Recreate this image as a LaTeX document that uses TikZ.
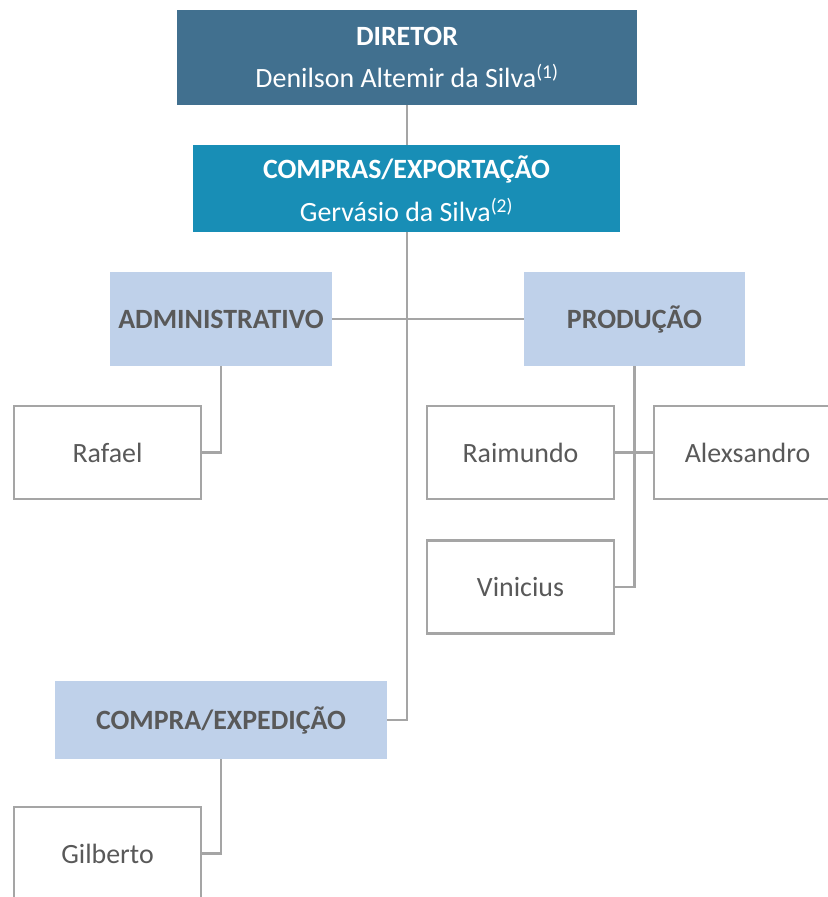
\documentclass[tikz,border=0pt]{standalone}
\usepackage{fontspec}
\setmainfont{Carlito}
\definecolor{dirblue}{HTML}{41708F}
\definecolor{compblue}{HTML}{188EB6}
\definecolor{lightblue}{HTML}{BFD1EA}
\definecolor{txtgray}{HTML}{595959}
\definecolor{linegray}{HTML}{A5A5A5}
\begin{document}
\begin{tikzpicture}[x=1bp,y=-1bp,
  box/.style={rectangle, inner sep=0pt, font=\fontsize{28}{43}\selectfont, align=center},
  topbox/.style={box, text=white},
  deptbox/.style={box, fill=lightblue, text=txtgray, font=\fontsize{28}{30}\selectfont\bfseries},
  personbox/.style={box, draw=linegray, line width=2.4bp, fill=white, text=txtgray,
    minimum width=187bp, minimum height=93bp, font=\fontsize{28}{30}\selectfont},
  conn/.style={draw=linegray, line width=2.2bp}]
\useasboundingbox (0,0) rectangle (828,897);
\clip (0,0) rectangle (828,897);
\fill[white] (0,0) rectangle (828,897);
% nodes
\node[topbox, fill=dirblue, minimum width=460bp, minimum height=95bp] (dir) at (407,57.5)
  {\textbf{DIRETOR}\\Denilson Altemir da Silva\textsuperscript{(1)}};
\node[topbox, fill=compblue, minimum width=427bp, minimum height=87bp] (comp) at (406.5,188.5)
  {\textbf{COMPRAS/EXPORTAÇÃO}\\Gervásio da Silva\textsuperscript{(2)}};
\node[deptbox, minimum width=222bp, minimum height=94bp] (adm) at (221,319) {ADMINISTRATIVO};
\node[deptbox, minimum width=221bp, minimum height=94bp] (prod) at (634.5,319) {PRODUÇÃO};
\node[personbox] (rafael) at (107.5,452.5) {Rafael};
\node[personbox] (raim) at (520.5,452.5) {Raimundo};
\node[personbox] (alex) at (747.5,452.5) {Alexsandro};
\node[personbox] (vin) at (520.5,587) {Vinicius};
\node[deptbox, minimum width=332bp, minimum height=78bp] (cexp) at (221,720) {COMPRA/EXPEDIÇÃO};
\node[personbox] (gil) at (107.5,853.5) {Gilberto};
% connectors
\draw[conn] (dir.south) -- (dir.south |- comp.north);
\draw[conn] (dir.south |- comp.south) -- (dir.south |- cexp.east) -- (cexp.east);
\draw[conn] (adm.east) -- (prod.west);
\draw[conn] (adm.south) |- (rafael.east);
\draw[conn] (cexp.south) |- (gil.east);
\draw[conn] (prod.south) |- (vin.east);
\draw[conn] (raim.east) -- (alex.west);
\end{tikzpicture}
\end{document}
